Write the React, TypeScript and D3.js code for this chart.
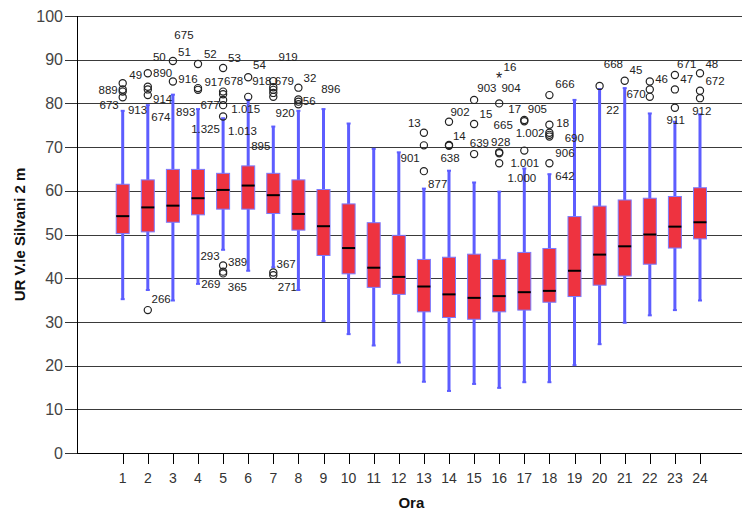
import React from "react";
import * as d3 from "d3";

// hourly boxes (Ora 1..24)
const hours = [1, 2, 3, 4, 5, 6, 7, 8, 9, 10, 11, 12, 13, 14, 15, 16, 17, 18, 19, 20, 21, 22, 23, 24];
const whiskerLow = [35.2, 37.3, 34.9, 38.7, 46.5, 41.7, 42.5, 37.3, 30.2, 27.2, 24.6, 20.7, 16.3, 14.2, 15.8, 14.9, 16.2, 16.2, 20.1, 24.9, 29.8, 31.5, 32.7, 34.9];
const q1 = [50.2, 50.6, 52.8, 54.5, 55.8, 55.8, 54.8, 51.0, 45.2, 41.0, 37.9, 36.3, 32.3, 31.0, 30.6, 32.3, 32.7, 34.5, 35.8, 38.4, 40.5, 43.2, 46.9, 49.0];
const medians = [54.2, 56.2, 56.6, 58.3, 60.2, 61.2, 59.0, 54.7, 51.9, 46.9, 42.4, 40.3, 38.1, 36.3, 35.5, 35.9, 36.8, 37.1, 41.7, 45.4, 47.3, 50.0, 51.8, 52.8];
const q3 = [61.5, 62.5, 64.9, 64.9, 64.0, 65.7, 64.0, 62.5, 60.3, 57.0, 52.7, 49.8, 44.3, 44.8, 45.5, 44.3, 45.9, 46.8, 54.1, 56.5, 57.9, 58.3, 58.7, 60.7];
const whiskerHigh = [78.3, 79.6, 82.0, 78.7, 76.6, 80.8, 74.7, 78.3, 78.7, 75.4, 69.6, 68.8, 60.5, 64.6, 61.9, 59.8, 65.1, 63.8, 80.8, 83.3, 83.5, 77.7, 75.8, 77.5];

// outliers [hour, value]
const outliers = [
  [1, 84.6], [1, 83.2], [1, 82.7], [1, 81.4],
  [2, 86.9], [2, 83.8], [2, 83.2], [2, 81.9], [2, 32.7],
  [3, 89.7], [3, 85.0],
  [4, 89.0], [4, 83.5], [4, 83.1],
  [5, 88.1], [5, 82.7], [5, 82.1], [5, 80.8], [5, 79.6], [5, 77.0], [5, 42.9], [5, 41.5], [5, 41.1],
  [6, 86.0], [6, 81.5],
  [7, 85.1], [7, 83.7], [7, 83.1], [7, 82.4], [7, 81.5], [7, 41.3], [7, 40.7],
  [8, 83.6], [8, 80.9], [8, 80.4], [8, 79.8],
  [13, 73.3], [13, 70.4], [13, 64.5],
  [14, 75.8], [14, 70.5], [14, 70.3],
  [15, 80.8], [15, 75.3], [15, 68.4],
  [16, 80.0], [16, 68.8], [16, 68.6], [16, 66.3],
  [17, 76.2], [17, 75.9], [17, 69.2],
  [18, 81.9], [18, 75.1], [18, 73.3], [18, 72.8], [18, 72.4], [18, 66.3],
  [20, 84.0],
  [21, 85.2],
  [22, 85.0], [22, 83.2], [22, 81.5],
  [23, 86.5], [23, 83.2], [23, 79.0],
  [24, 86.9], [24, 82.9], [24, 81.2],
];
// extremes [hour, value]
const extremes = [[16, 86.5]];

// case labels [text, hour position, value position]
const caseLabels: [string, number, number][] = [
  ["675", 3.44, 95.7], ["50", 2.46, 90.7], ["51", 3.46, 91.8], ["52", 4.49, 91.3],
  ["53", 5.45, 90.5], ["54", 6.45, 88.8], ["919", 7.59, 90.7], ["49", 1.52, 86.6],
  ["890", 2.59, 87.0], ["916", 3.6, 85.6], ["917", 4.64, 84.8], ["678", 5.42, 85.2],
  ["918", 6.54, 85.1], ["679", 7.44, 85.2], ["32", 8.46, 85.9], ["896", 9.29, 83.3],
  ["889", 0.42, 83.1], ["673", 0.46, 79.6], ["913", 1.59, 78.6], ["914", 2.59, 81.0],
  ["674", 2.52, 77.0], ["893", 3.51, 78.0], ["677", 4.48, 79.6], ["1.015", 5.9, 78.7],
  ["920", 7.47, 77.9], ["56", 8.43, 80.6], ["1.325", 4.3, 74.1], ["1.013", 5.77, 73.7],
  ["895", 6.5, 70.3], ["293", 4.48, 45.1], ["389", 5.58, 43.8], ["365", 5.57, 38.1],
  ["269", 4.51, 38.6], ["266", 2.53, 35.2], ["367", 7.51, 43.2], ["271", 7.56, 38.1],
  ["13", 12.62, 75.6], ["901", 12.45, 67.6], ["877", 13.55, 61.6], ["902", 14.44, 78.1],
  ["14", 14.41, 72.6], ["638", 14.04, 67.4], ["903", 15.51, 83.5], ["15", 15.47, 77.5],
  ["639", 15.21, 70.9], ["16", 16.43, 88.3], ["904", 16.47, 83.5], ["17", 16.62, 78.7],
  ["665", 16.16, 75.1], ["928", 16.06, 71.2], ["905", 17.52, 78.7], ["1.002", 17.23, 73.2],
  ["1.001", 17.02, 66.3], ["1.000", 16.9, 62.9], ["666", 18.62, 84.4], ["18", 18.53, 75.6],
  ["690", 18.99, 72.2], ["906", 18.62, 68.7], ["642", 18.62, 63.4], ["22", 20.52, 78.6],
  ["668", 20.55, 89.0], ["45", 21.45, 87.6], ["670", 21.45, 82.1], ["46", 22.47, 85.5],
  ["671", 23.47, 89.0], ["47", 23.47, 85.5], ["911", 23.03, 76.2], ["48", 24.47, 89.0],
  ["672", 24.6, 85.1], ["912", 24.07, 78.3],
];

const yTicks = [0, 10, 20, 30, 40, 50, 60, 70, 80, 90, 100];

const W = 742;
const H = 513;
const left = 77;
const top = 16;
const bottom = 453;
const font = "'Liberation Sans', Arial, sans-serif";

export default function App() {
  const y = d3.scaleLinear().domain([0, 100]).range([bottom, top]);
  const x = d3.scaleLinear().domain([1, 24]).range([122.7, 700]);
  const boxW = 13;

  return (
    <svg width={W} height={H} style={{ position: "absolute", left: 0, top: 0, background: "#fff" }} fontFamily={font}>
      {/* grid */}
      {yTicks.filter((t) => t > 0).map((t) => (
        <line key={"g" + t} x1={left} x2={W} y1={Math.round(y(t)) + 0.5} y2={Math.round(y(t)) + 0.5} stroke="#3a3a3a" strokeWidth={1.2} />
      ))}
      {/* axes */}
      <line x1={left + 0.5} x2={left + 0.5} y1={top} y2={bottom} stroke="#000" />
      <line x1={left} x2={W} y1={bottom + 0.5} y2={bottom + 0.5} stroke="#000" />
      {yTicks.map((t) => (
        <g key={"yt" + t}>
          <line x1={left - 12} x2={left} y1={Math.round(y(t)) + 0.5} y2={Math.round(y(t)) + 0.5} stroke="#333" />
          <text x={left - 14} y={y(t)} dy="0.35em" textAnchor="end" fontSize={16} fill="#444">{t}</text>
        </g>
      ))}
      {hours.map((h) => (
        <g key={"xt" + h}>
          <line x1={Math.round(x(h)) + 0.5} x2={Math.round(x(h)) + 0.5} y1={bottom} y2={bottom + 11} stroke="#000" />
          <text x={x(h)} y={478} dy="0.35em" textAnchor="middle" fontSize={14} fill="#333">{h}</text>
        </g>
      ))}
      {/* whiskers and boxes */}
      {hours.map((h, i) => (
        <g key={"b" + h}>
          <line x1={x(h)} x2={x(h)} y1={y(whiskerLow[i])} y2={y(whiskerHigh[i])} stroke="#5d5dff" strokeWidth={3} />
          <line x1={x(h) - 2} x2={x(h) + 2} y1={y(whiskerLow[i])} y2={y(whiskerLow[i])} stroke="#5d5dff" strokeWidth={2} />
          <line x1={x(h) - 2} x2={x(h) + 2} y1={y(whiskerHigh[i])} y2={y(whiskerHigh[i])} stroke="#5d5dff" strokeWidth={2} />
          <rect x={x(h) - boxW / 2} y={y(q3[i])} width={boxW} height={y(q1[i]) - y(q3[i])} fill="#ee3340" stroke="#7b7bff" strokeWidth={1} />
          <line x1={x(h) - boxW / 2} x2={x(h) + boxW / 2} y1={y(medians[i])} y2={y(medians[i])} stroke="#000" strokeWidth={2} />
        </g>
      ))}
      {/* outliers */}
      {outliers.map(([h, v], i) => (
        <circle key={"o" + i} cx={x(h)} cy={y(v)} r={3.6} fill="none" stroke="#222" strokeWidth={1.2} />
      ))}
      {extremes.map(([h, v], i) => (
        <text key={"e" + i} x={x(h)} y={y(v)} dy="0.55em" textAnchor="middle" fontSize={16} fill="#222">*</text>
      ))}
      {caseLabels.map(([t, h, v], i) => (
        <text key={"l" + i} x={x(h)} y={y(v)} dy="0.35em" textAnchor="middle" fontSize={11.5} fill="#222">{t}</text>
      ))}
      {/* titles */}
      <text x={x(12.5)} y={503} dy="0.35em" textAnchor="middle" fontSize={15} fontWeight="bold" fill="#111">Ora</text>
      <text transform={`translate(20,${(top + bottom) / 2}) rotate(-90)`} textAnchor="middle" dy="0.35em" fontSize={15} fontWeight="bold" fill="#111">UR V.le Silvani 2 m</text>
    </svg>
  );
}
